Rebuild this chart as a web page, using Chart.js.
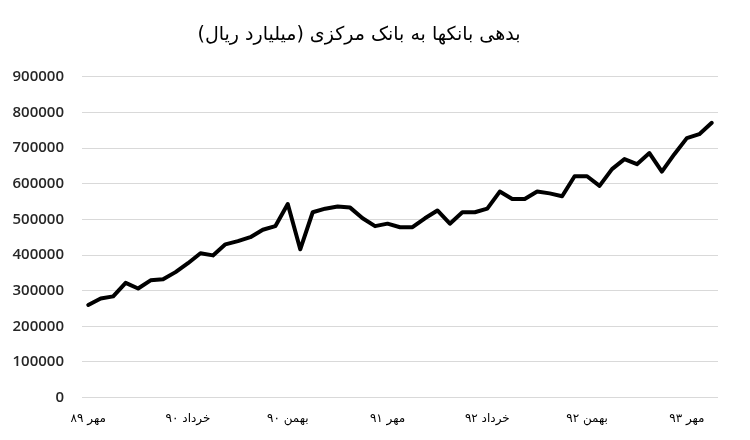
<!DOCTYPE html>
<html>
<head>
<meta charset="utf-8">
<script src="https://cdn.jsdelivr.net/npm/chart.js@4/dist/chart.umd.min.js"></script>
<style>
  html, body { margin: 0; padding: 0; background: #ffffff; }
  #wrap { width: 750px; height: 440px; position: relative; }
</style>
</head>
<body>
<div id="wrap"><canvas id="c" width="750" height="440"></canvas></div>
<script>
const chartTitle = '\u200Fبدهی بانکها به بانک مرکزی (میلیارد ریال)\u200F';

const categories = [
  'مهر ۸۹', 'آبان ۸۹', 'آذر ۸۹', 'دی ۸۹', 'بهمن ۸۹', 'اسفند ۸۹',
  'فروردین ۹۰', 'اردیبهشت ۹۰', 'خرداد ۹۰', 'تیر ۹۰', 'مرداد ۹۰', 'شهریور ۹۰',
  'مهر ۹۰', 'آبان ۹۰', 'آذر ۹۰', 'دی ۹۰', 'بهمن ۹۰', 'اسفند ۹۰',
  'فروردین ۹۱', 'اردیبهشت ۹۱', 'خرداد ۹۱', 'تیر ۹۱', 'مرداد ۹۱', 'شهریور ۹۱',
  'مهر ۹۱', 'آبان ۹۱', 'آذر ۹۱', 'دی ۹۱', 'بهمن ۹۱', 'اسفند ۹۱',
  'فروردین ۹۲', 'اردیبهشت ۹۲', 'خرداد ۹۲', 'تیر ۹۲', 'مرداد ۹۲', 'شهریور ۹۲',
  'مهر ۹۲', 'آبان ۹۲', 'آذر ۹۲', 'دی ۹۲', 'بهمن ۹۲', 'اسفند ۹۲',
  'فروردین ۹۳', 'اردیبهشت ۹۳', 'خرداد ۹۳', 'تیر ۹۳', 'مرداد ۹۳', 'شهریور ۹۳',
  'مهر ۹۳', 'آبان ۹۳', 'آذر ۹۳'
];

const debtValues = [
  260000, 278000, 284000, 322000, 306000, 329000, 332000, 352000, 377000, 405000,
  399000, 430000, 439000, 450000, 471000, 481000, 543000, 416000, 520000, 530000,
  536000, 533000, 503000, 481000, 488000, 478000, 478000, 503000, 525000, 488000,
  520000, 520000, 530000, 578000, 557000, 557000, 578000, 573000, 565000, 621000,
  621000, 594000, 641000, 669000, 655000, 686000, 634000, 683000, 728000, 739000,
  771000
];

const shownTickLabels = ['مهر ۸۹', 'خرداد ۹۰', 'بهمن ۹۰', 'مهر ۹۱', 'خرداد ۹۲', 'بهمن ۹۲', 'مهر ۹۳'];
const yTickValues = [0, 100000, 200000, 300000, 400000, 500000, 600000, 700000, 800000, 900000];

new Chart(document.getElementById('c'), {
  type: 'line',
  data: {
    labels: categories,
    datasets: [{
      data: debtValues,
      borderColor: '#000000',
      borderWidth: 4,
      borderJoinStyle: 'round',
      borderCapStyle: 'round',
      pointRadius: 0,
      tension: 0,
      fill: false
    }]
  },
  options: {
    responsive: false,
    animation: false,
    devicePixelRatio: 1,
    layout: { padding: { left: 0, right: 32, top: 0, bottom: 0 } },
    plugins: {
      legend: { display: false },
      tooltip: { enabled: false },
      title: {
        display: true,
        text: chartTitle,
        color: '#000000',
        font: { family: 'DejaVu Sans', size: 19, weight: 'normal' },
        padding: { top: 24, bottom: 30 }
      }
    },
    scales: {
      x: {
        type: 'category',
        offset: true,
        grid: { display: false, drawTicks: false },
        border: { display: false },
        ticks: {
          autoSkip: false,
          maxRotation: 0,
          minRotation: 0,
          padding: 14,
          color: '#000000',
          font: { family: 'DejaVu Sans', size: 12 },
          callback: function (value) {
            const lab = categories[value];
            return shownTickLabels.includes(lab) ? lab : '';
          }
        }
      },
      y: {
        min: 0,
        max: 900000,
        afterFit: function (scale) { scale.width = 82; },
        afterBuildTicks: function (scale) { scale.ticks = yTickValues.map(v => ({ value: v })); },
        grid: { color: '#d9d9d9', lineWidth: 1, drawTicks: false },
        border: { display: false },
        ticks: {
          padding: 18,
          color: '#262626',
          font: { family: 'Open Sans', size: 15, weight: '600' },
          callback: function (value) { return String(value); }
        }
      }
    }
  }
});
</script>
</body>
</html>
